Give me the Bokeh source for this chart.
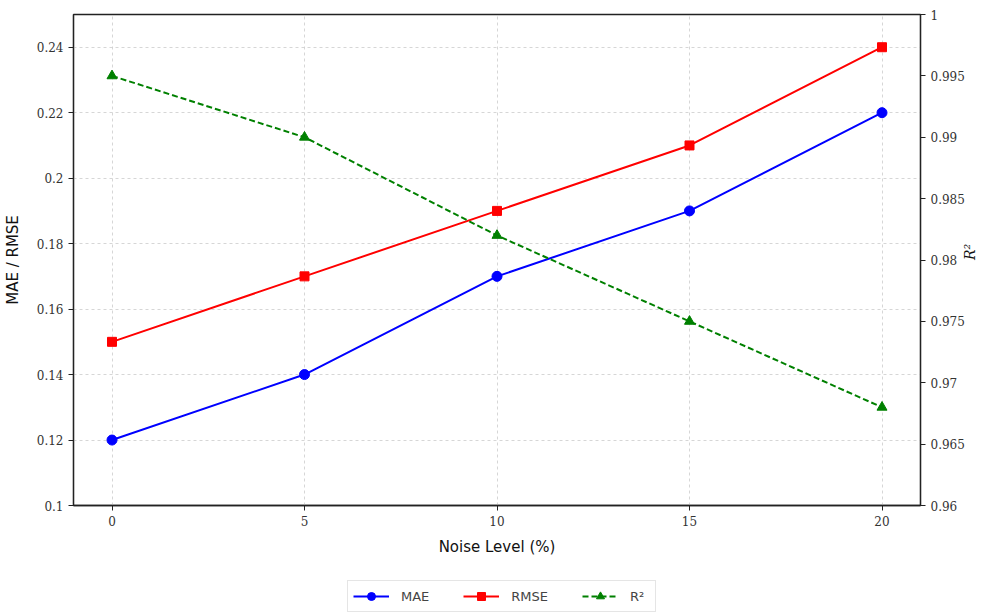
import math
from bokeh.plotting import figure
from bokeh.layouts import column
from bokeh.models import Range1d, LinearAxis, FixedTicker, Legend, LegendItem
from bokeh.embed import file_html
from bokeh.resources import INLINE

noise = [0, 5, 10, 15, 20]
mae = [0.12, 0.14, 0.17, 0.19, 0.22]
rmse = [0.15, 0.17, 0.19, 0.21, 0.24]
r2 = [0.995, 0.99, 0.982, 0.975, 0.968]

left_ticks = [0.1, 0.12, 0.14, 0.16, 0.18, 0.2, 0.22, 0.24]
left_labels = ["0.1", "0.12", "0.14", "0.16", "0.18", "0.2", "0.22", "0.24"]
right_ticks = [0.96, 0.965, 0.97, 0.975, 0.98, 0.985, 0.99, 0.995, 1.0]
right_labels = ["0.96", "0.965", "0.97", "0.975", "0.98", "0.985", "0.99", "0.995", "1"]
x_ticks = [0, 5, 10, 15, 20]

W = 988
H_MAIN = 570
H_LEG = 44

p = figure(width=W, height=H_MAIN, output_backend="svg", toolbar_location=None,
           x_range=Range1d(-1, 21), y_range=Range1d(0.1, 0.25),
           min_border_left=73, min_border_right=68, min_border_top=14, min_border_bottom=65)
p.extra_y_ranges = {"r2": Range1d(0.96, 1.0)}

p.outline_line_color = "#222222"
p.outline_line_width = 1.3
p.background_fill_color = "white"

TICKFONT = "DejaVu Serif"

def style_axis(ax):
    ax.axis_line_color = "#222222"
    ax.axis_line_width = 1.3
    ax.major_tick_line_color = "#222222"
    ax.major_tick_out = 5
    ax.major_tick_in = 0
    ax.minor_tick_line_color = None
    ax.major_label_text_font = TICKFONT
    ax.major_label_text_font_size = "12px"
    ax.major_label_text_color = "#333333"
    ax.axis_label_text_font = "DejaVu Sans"
    ax.axis_label_text_font_size = "15px"
    ax.axis_label_text_font_style = "normal"
    ax.axis_label_text_color = "#111111"

xa = p.xaxis[0]
xa.ticker = FixedTicker(ticks=x_ticks)
xa.axis_label = "Noise Level (%)"
style_axis(xa)
xa.axis_label_standoff = 9

ya = p.yaxis[0]
ya.ticker = FixedTicker(ticks=left_ticks)
ya.major_label_overrides = dict(zip(left_ticks, left_labels))
ya.axis_label = "MAE / RMSE"
style_axis(ya)
ya.axis_label_standoff = 12

ra = LinearAxis(y_range_name="r2", ticker=FixedTicker(ticks=right_ticks))
ra.major_label_overrides = dict(zip(right_ticks, right_labels))
style_axis(ra)
ra.axis_label = "R²"
ra.axis_label_text_font = TICKFONT
ra.axis_label_text_font_style = "italic"
ra.axis_label_text_font_size = "14px"
ra.axis_label_standoff = 2
ra.axis_label_orientation = math.pi / 2
p.add_layout(ra, "right")

for g in (p.xgrid[0], p.ygrid[0]):
    g.grid_line_color = "#cccccc"
    g.grid_line_dash = "3 3"
    g.grid_line_width = 0.8
p.xgrid[0].ticker = FixedTicker(ticks=x_ticks)
p.ygrid[0].ticker = FixedTicker(ticks=left_ticks)

p.line(noise, mae, line_color="#0000ff", line_width=2)
p.scatter(noise, mae, marker="circle", size=10, fill_color="#0000ff", line_color="#0000ff")
p.line(noise, rmse, line_color="#ff0000", line_width=2)
p.scatter(noise, rmse, marker="square", size=9, fill_color="#ff0000", line_color="#ff0000")
p.line(noise, r2, line_color="#008000", line_width=2, line_dash="6 3", y_range_name="r2")
p.scatter(noise, r2, marker="triangle", size=10, fill_color="#008000", line_color="#008000", y_range_name="r2")

# legend figure below the chart (renderers out of view, only their legend glyphs show)
q = figure(width=W, height=H_LEG, output_backend="svg", toolbar_location=None,
           x_range=Range1d(100, 101), y_range=Range1d(100, 101),
           min_border_left=0, min_border_right=0, min_border_top=0, min_border_bottom=0)
q.axis.visible = False
q.grid.visible = False
q.outline_line_color = None

d1 = q.line(noise, mae, line_color="#0000ff", line_width=2)
s1 = q.scatter(noise, mae, marker="circle", size=10, fill_color="#0000ff", line_color="#0000ff")
d2 = q.line(noise, rmse, line_color="#ff0000", line_width=2)
s2 = q.scatter(noise, rmse, marker="square", size=9, fill_color="#ff0000", line_color="#ff0000")
d3 = q.line(noise, r2, line_color="#008000", line_width=2, line_dash="6 3")
s3 = q.scatter(noise, r2, marker="triangle", size=10, fill_color="#008000", line_color="#008000")

legend = Legend(items=[
    LegendItem(label="MAE", renderers=[d1, s1]),
    LegendItem(label="RMSE", renderers=[d2, s2]),
    LegendItem(label="R²", renderers=[d3, s3]),
], orientation="horizontal", location=(274, 2))
legend.label_text_font = "DejaVu Sans"
legend.label_text_font_size = "13px"
legend.border_line_color = "#cccccc"
legend.border_line_width = 1
legend.margin = 0
legend.padding = 5
legend.spacing = 34
legend.glyph_width = 36
legend.label_standoff = 12
q.add_layout(legend, "center")

layout = column(p, q, spacing=0)
open("out.html", "w").write(file_html(layout, INLINE))
